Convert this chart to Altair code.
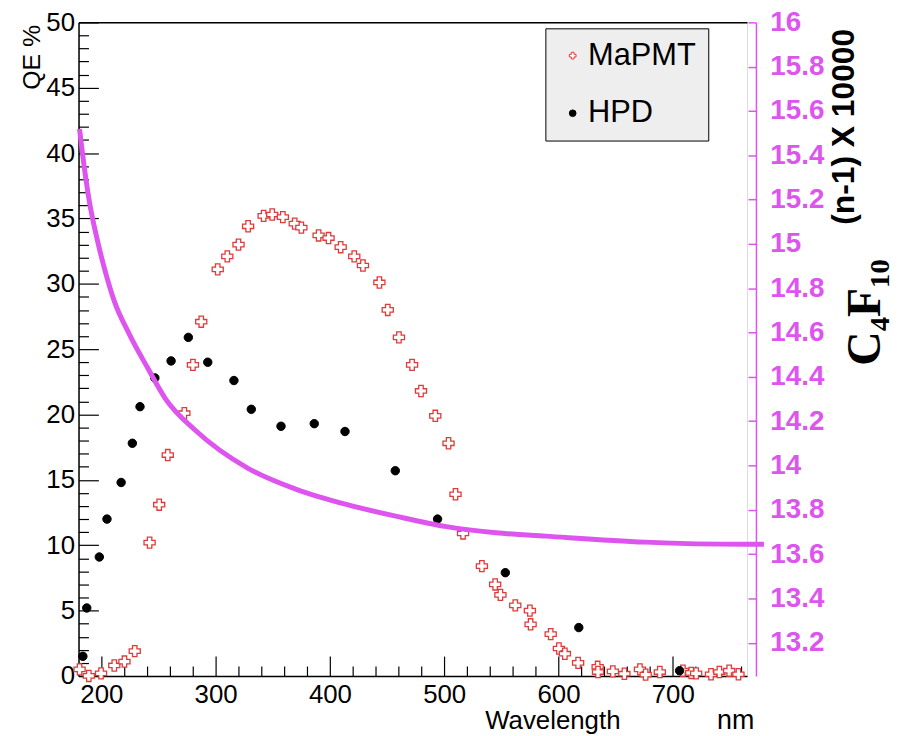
import altair as alt
import pandas as pd

# ---------------- data ----------------
mapmt_nm = [180.9, 189.0, 199.7, 211.3, 220.2, 229.2, 242.2, 250.6, 258.1, 272.6,
            280.1, 287.4, 301.8, 310.2, 320.0, 328.4, 342.0, 349.5, 358.8, 369.2,
            375.0, 390.1, 398.8, 409.4, 421.3, 428.9, 443.3, 450.6, 460.4, 471.9,
            479.7, 492.2, 503.8, 509.9, 516.5, 533.0, 544.6, 549.2, 562.2, 575.0,
            575.6, 593.2, 600.4, 605.6, 617.2, 634.3, 634.6, 647.6, 657.7, 671.3,
            676.3, 688.7, 708.9, 716.2, 720.5, 733.5, 740.8, 749.4, 757.5]
mapmt_qe = [0.5, 0.0, 0.2, 0.8, 1.1, 1.9, 10.2, 13.1, 16.9, 20.1,
            23.8, 27.1, 31.1, 32.1, 33.0, 34.4, 35.2, 35.3, 35.1, 34.6,
            34.3, 33.7, 33.5, 32.8, 32.1, 31.4, 30.1, 28.0, 25.9, 23.8,
            21.8, 19.9, 17.8, 13.9, 10.9, 8.4, 7.0, 6.2, 5.4, 5.0,
            3.95, 3.2, 2.1, 1.7, 1.0, 0.7, 0.3, 0.35, 0.17, 0.5,
            0.1, 0.3, 0.4, 0.23, 0.2, 0.13, 0.3, 0.4, 0.13]

hpd_nm = [183.8, 187.2, 198.2, 204.9, 217.3, 227.1, 233.8, 246.8, 261.0, 276.1,
          293.1, 316.0, 331.2, 357.2, 386.3, 413.2, 457.2, 494.2, 553.5, 617.8, 706.0]
hpd_qe = [1.5, 5.2, 9.1, 12.0, 14.8, 17.8, 20.6, 22.8, 24.1, 25.9,
          24.0, 22.6, 20.4, 19.1, 19.3, 18.7, 15.7, 12.0, 7.9, 3.7, 0.4]

curve_nm = [180.9, 185.2, 189.5, 195.4, 202.6, 211.3, 224.3, 240.2, 256.1, 282.2,
            328.4, 371.8, 415.2, 458.6, 502.0, 545.5, 588.9, 675.7, 762.5, 779.8]
curve_val = [15.519, 15.340, 15.191, 15.041, 14.891, 14.742, 14.594, 14.443, 14.301, 14.159,
             13.987, 13.890, 13.823, 13.770, 13.724, 13.696, 13.681, 13.654, 13.644, 13.644]

x_major = [200, 300, 400, 500, 600, 700]
x_minor = [180, 220, 240, 260, 280, 320, 340, 360, 380, 420, 440, 460, 480,
           520, 540, 560, 580, 620, 640, 660, 680, 720, 740, 760]
y_major = [0, 5, 10, 15, 20, 25, 30, 35, 40, 45, 50]
y_minor = [1, 2, 3, 4, 6, 7, 8, 9, 11, 12, 13, 14, 16, 17, 18, 19, 21, 22, 23, 24,
           26, 27, 28, 29, 31, 32, 33, 34, 36, 37, 38, 39, 41, 42, 43, 44, 46, 47, 48, 49]
r_major = [13.2, 13.4, 13.6, 13.8, 14.0, 14.2, 14.4, 14.6, 14.8, 15.0,
           15.2, 15.4, 15.6, 15.8, 16.0]
series_order = ["MaPMT", "HPD"]

# ---------------- styling ----------------
W, H = 673, 658
FONT = "Liberation Sans"
MAG = "#dd55ee"
RED = "#e03a3a"

pts = pd.DataFrame({
    "series": ["MaPMT"] * len(mapmt_nm) + ["HPD"] * len(hpd_nm),
    "nm": mapmt_nm + hpd_nm,
    "qe": mapmt_qe + hpd_qe,
})
curve = pd.DataFrame({"nm": curve_nm, "val": curve_val})

xs = alt.Scale(domain=[180, 765], nice=False, zero=False)
ys = alt.Scale(domain=[0, 50], nice=False, zero=False)
rs = alt.Scale(domain=[13.05, 16], nice=False, zero=False)

base_pts = alt.Chart(pts)
base_curve = alt.Chart(curve)


def legend():
    return alt.Legend(title=None, orient="none", legendX=470, legendY=6,
                      fillColor="#eeeeee", strokeColor="black", padding=12,
                      labelFont=FONT, labelFontSize=31, labelColor="black",
                      symbolSize=45, symbolStrokeWidth=1, rowPadding=26,
                      labelOffset=0, labelLimit=300)


def series_enc():
    return dict(
        shape=alt.Shape("series:N", scale=alt.Scale(domain=series_order, range=["cross", "circle"]),
                        legend=legend()),
        stroke=alt.Stroke("series:N", scale=alt.Scale(domain=series_order, range=[RED, "black"]),
                          legend=legend()),
        fill=alt.Fill("series:N", scale=alt.Scale(domain=series_order, range=["white", "black"]),
                      legend=legend()),
    )


mapmt_layer = base_pts.transform_filter(alt.datum.series == "MaPMT").mark_point(
    opacity=1, strokeWidth=1.3, size=125).encode(
    x=alt.X("nm:Q", scale=xs, axis=alt.Axis(
        orient="bottom", values=x_major, ticks=False, domain=True, domainColor="black",
        domainWidth=1.5, labelFont=FONT, labelFontSize=26, labelColor="black",
        labelPadding=6, labelFlush=False, labelOverlap=False, grid=False, format="d",
        title="Wavelength", titleFont=FONT, titleFontSize=26, titleFontWeight="normal",
        titleColor="black", titleX=477, titleY=53, titleAlign="center",
        titleBaseline="alphabetic")),
    y=alt.Y("qe:Q", scale=ys, axis=alt.Axis(
        orient="left", values=y_major, ticks=False, domain=True, domainColor="black",
        domainWidth=1.5, labelFont=FONT, labelFontSize=26, labelColor="black",
        labelPadding=4, labelFlush=False, labelOverlap=False, grid=False, format="d",
        title="QE %", titleFont=FONT, titleFontSize=25, titleFontWeight="normal",
        titleColor="black", titleAngle=270, titleX=-47, titleY=2, titleAlign="right",
        titleBaseline="middle")),
    **series_enc(),
)

hpd_layer = base_pts.transform_filter(alt.datum.series == "HPD").mark_point(
    opacity=1, strokeWidth=1, size=72).encode(
    x=alt.X("nm:Q", scale=xs, axis=None),
    y=alt.Y("qe:Q", scale=ys, axis=None),
    **series_enc(),
)


def x_ticks(values, size, title=None, **kw):
    return base_pts.mark_point(opacity=0).encode(
        x=alt.X("nm:Q", scale=xs, axis=alt.Axis(
            orient="top", offset=-H, values=values, labels=False, domain=False, ticks=True,
            tickSize=size, tickColor="black", tickWidth=1.2, grid=False, title=title, **kw)),
        y=alt.Y("qe:Q", scale=ys, axis=None),
    )


def y_ticks(values, size):
    return base_pts.mark_point(opacity=0).encode(
        x=alt.X("nm:Q", scale=xs, axis=None),
        y=alt.Y("qe:Q", scale=ys, axis=alt.Axis(
            orient="right", offset=-W, values=values, labels=False, domain=False, ticks=True,
            tickSize=size, tickColor="black", tickWidth=1.2, grid=False, title=None)),
    )


x_major_ticks = x_ticks(x_major, 20, title="nm", titleFont=FONT, titleFontSize=27,
                        titleFontWeight="normal", titleColor="black", titleX=661, titleY=53,
                        titleAlign="center", titleBaseline="alphabetic")
x_minor_ticks = x_ticks(x_minor, 10)
y_major_ticks = y_ticks(y_major, 20)
y_minor_ticks = y_ticks(y_minor, 10)

top_border = base_pts.mark_point(opacity=0).encode(
    x=alt.X("nm:Q", scale=xs, axis=alt.Axis(
        orient="top", labels=False, ticks=False, domain=True, domainColor="black",
        domainWidth=1.5, grid=False, title=None)),
    y=alt.Y("qe:Q", scale=ys, axis=None),
)

curve_line = base_curve.mark_line(color=MAG, strokeWidth=5, clip=False,
                                  interpolate="monotone").encode(
    x=alt.X("nm:Q", scale=xs, axis=None),
    y=alt.Y("val:Q", scale=rs, axis=alt.Axis(
        orient="right", offset=9, values=r_major, ticks=False, domain=True, domainColor=MAG,
        domainWidth=1.5, labelColor=MAG, labelFont=FONT, labelFontSize=28,
        labelFontWeight="bold", labelPadding=14, labelFlush=False, labelOverlap=False,
        grid=False, labelExpr="format(datum.value, '.4~f')",
        title="(n-1) X 10000", titleFont=FONT, titleFontSize=32, titleFontWeight="bold",
        titleColor="black", titleAngle=270, titleX=88, titleY=6, titleAlign="right",
        titleBaseline="middle")),
)

mag_ticks = base_curve.mark_point(opacity=0).encode(
    x=alt.X("nm:Q", scale=xs, axis=None),
    y=alt.Y("val:Q", scale=rs, axis=alt.Axis(
        orient="left", offset=-(W + 9), values=r_major, labels=False, domain=False,
        ticks=True, tickSize=8, tickColor=MAG, tickWidth=1.5, grid=False, title=None)),
)

gas_title = base_curve.mark_point(opacity=0).encode(
    x=alt.X("nm:Q", scale=xs, axis=None),
    y=alt.Y("val:Q", scale=rs, axis=alt.Axis(
        orient="right", offset=9, labels=False, ticks=False, domain=False, grid=False,
        title="C\u2084F\u2081\u2080", titleFont="Liberation Serif, DejaVu Serif",
        titleFontSize=48, titleFontWeight="bold", titleColor="black", titleAngle=270,
        titleX=110, titleY=238, titleAlign="right", titleBaseline="middle")),
)

chart = alt.layer(
    x_minor_ticks, x_major_ticks, y_minor_ticks, y_major_ticks, top_border,
    mapmt_layer, hpd_layer, curve_line, mag_ticks, gas_title,
).resolve_scale(y="independent").resolve_axis(
    x="independent", y="independent"
).properties(
    width=W, height=H, autosize="none",
    padding={"left": 71, "top": 12, "right": 150, "bottom": 58},
).configure_view(stroke=None).configure(background="white")

chart.save("out.html", embed_options={"renderer": "svg", "actions": False})
